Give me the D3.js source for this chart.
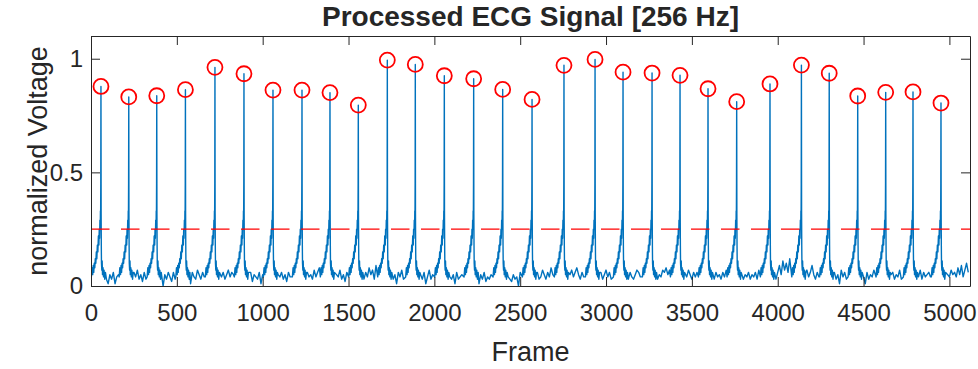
<!DOCTYPE html>
<html>
<head>
<meta charset="utf-8">
<script src="https://cdn.jsdelivr.net/npm/d3@7"></script>
<style>
  body { margin: 0; background: #fff; }
  text { font-family: "Liberation Sans", Arial, sans-serif; fill: #262626; }
</style>
</head>
<body>
<div id="wrapper"></div>
<script>
// detected R peaks (frame, normalized voltage)
const peakFrames = [58, 220, 383, 550, 722, 891, 1060, 1229, 1392, 1557,
  1726, 1889, 2058, 2229, 2398, 2569, 2755, 2936, 3099, 3268,
  3431, 3594, 3761, 3955, 4138, 4300, 4466, 4629, 4788, 4951]
const peakValues = [0.878, 0.832, 0.837, 0.864, 0.962, 0.934, 0.862, 0.862, 0.851, 0.796,
  0.994, 0.975, 0.925, 0.912, 0.865, 0.821, 0.971, 0.997, 0.941, 0.937,
  0.927, 0.868, 0.811, 0.889, 0.972, 0.936, 0.836, 0.852, 0.854, 0.805]

// shape of one beat around its R peak (offset in frames, voltage; null = the peak)
const beatOffsets = [-56, -52, -48, -45, -42, -39, -36, -33, -30, -27, -24, -21, -18, -15, -12, -10, -8, -6, -4, -3, -2, -1,
  0, 1, 2, 3, 5, 7, 9, 12, 15, 18, 22, 26]
const beatValues = [0.04, 0.08, 0.05, 0.09, 0.06, 0.10, 0.08, 0.12, 0.10, 0.15, 0.12, 0.18, 0.15, 0.22, 0.18, 0.25, 0.21, 0.29, 0.25, 0.33, 0.28, 0.45,
  null, 0.32, 0.18, 0.10, 0.07, 0.11, 0.05, 0.08, 0.04, 0.07, 0.03, 0.06]

// baseline between beats, one value every 10 frames (in hundredths)
const baselineStep = 10
const baselineHundredths = [
  8,6,9,5,7,4,8,6,9,3,1,5,3,6,1,4,  5,3,7,1,4,6,3,5,8,6,4,7,3,5,2,6,
  3,5,4,7,1,6,3,8,5,4,0,5,3,6,4,2,  6,3,5,7,4,8,6,4,3,5,1,6,4,3,7,5,
  3,6,4,8,5,1,7,4,6,3,5,2,4,6,3,5,  7,4,6,5,8,4,6,9,3,5,1,4,3,6,2,5,
  4,3,6,1,5,7,4,8,6,9,5,3,1,5,4,6,  3,5,2,6,4,3,7,5,8,4,6,3,5,0,6,4,
  5,3,7,4,6,8,5,9,4,6,3,1,4,6,3,5,  4,7,3,5,2,6,4,8,5,9,6,3,4,1,5,3,
  6,4,8,5,7,3,9,6,10,7,8,5,6,3,4,2, 3,5,1,6,4,7,3,5,8,4,6,7,5,3,4,2,
  5,3,6,1,4,7,3,5,6,8,4,6,9,5,3,4,  2,4,3,5,1,6,3,4,5,3,6,4,7,5,8,6,
  4,3,1,5,3,6,2,4,3,5,4,6,5,7,4,8,  3,5,1,4,3,2,5,3,4,0,6,3,5,4,6,7,
  4,3,5,1,6,3,4,7,5,3,6,4,8,5,6,9,  5,7,4,3,5,6,3,5,7,4,6,8,5,3,6,4,
  7,5,6,8,4,1,3,5,4,6,3,5,7,4,6,3,  5,4,7,6,8,3,4,1,5,3,6,4,3,5,7,6,
  4,6,8,5,7,3,5,1,4,6,3,5,4,7,6,8,  5,7,4,6,3,5,2,4,3,5,6,4,7,5,3,6,
  4,6,3,8,5,7,4,3,5,1,4,3,6,4,5,3,  6,4,7,5,3,6,4,8,5,3,1,4,3,5,4,6,
  3,5,4,6,3,7,5,8,6,4,9,5,7,6,4,3,  6,9,5,11,7,10,6,12,8,5,10,7,11,6,9,8,
  5,7,4,6,9,5,3,6,4,7,5,8,6,4,5,3,  4,6,3,5,1,7,4,6,3,5,4,6,3,5,4,6,
  3,5,4,1,6,3,5,4,7,3,5,6,4,7,5,6,  4,3,5,6,3,5,4,7,3,6,4,5,7,4,6,5,
  3,5,4,7,3,6,4,5,6,4,3,5,7,5,6,4,  4,6,3,5,4,7,5,6,4,8,5,9,4,7,10,6
]

const thresholdValue = 0.25
const xTicks = d3.range(0, 5001, 500)
const yTicks = [0, 0.5, 1]

// build the signal points from beats + baseline
const signal = []
peakFrames.forEach((p, i) => {
  beatOffsets.forEach((o, j) => {
    signal.push({ frame: p + o, value: beatValues[j] === null ? peakValues[i] : beatValues[j] })
  })
})
baselineHundredths.forEach((v, k) => {
  const f = k * baselineStep
  const inBeat = peakFrames.some(p => f > p - 60 && f < p + 30)
  if (!inBeat) signal.push({ frame: f, value: v / 100 })
})
signal.sort((a, b) => a.frame - b.frame)

const peaks = peakFrames.map((f, i) => ({ frame: f, value: peakValues[i] }))

// dimensions
const dimensions = {
  width: 978,
  height: 369,
  margin: { top: 36, right: 8, bottom: 83, left: 91 }
}
dimensions.boundedWidth = dimensions.width - dimensions.margin.left - dimensions.margin.right
dimensions.boundedHeight = dimensions.height - dimensions.margin.top - dimensions.margin.bottom

const wrapper = d3.select("#wrapper")
  .append("svg")
    .attr("width", dimensions.width)
    .attr("height", dimensions.height)

const bounds = wrapper.append("g")
  .attr("transform", `translate(${dimensions.margin.left},${dimensions.margin.top})`)

// scales
const xScale = d3.scaleLinear()
  .domain([0, 5120])
  .range([0, dimensions.boundedWidth])

const yScale = d3.scaleLinear()
  .domain([0, 1.1])
  .range([dimensions.boundedHeight, 0])

bounds.append("clipPath")
  .attr("id", "clip")
  .append("rect")
    .attr("width", dimensions.boundedWidth)
    .attr("height", dimensions.boundedHeight)

// data
const lineGenerator = d3.line()
  .x(d => xScale(d.frame))
  .y(d => yScale(d.value))

bounds.append("path")
  .datum(signal)
  .attr("clip-path", "url(#clip)")
  .attr("d", lineGenerator)
  .attr("fill", "none")
  .attr("stroke", "#0072BD")
  .attr("stroke-width", 1.4)
  .attr("stroke-linejoin", "round")

bounds.append("line")
  .attr("x1", 0)
  .attr("x2", dimensions.boundedWidth)
  .attr("y1", yScale(thresholdValue))
  .attr("y2", yScale(thresholdValue))
  .attr("stroke", "#FF0000")
  .attr("stroke-width", 1.2)
  .attr("stroke-dasharray", "18.5,11.5")

bounds.selectAll("circle")
  .data(peaks)
  .enter().append("circle")
    .attr("cx", d => xScale(d.frame))
    .attr("cy", d => yScale(d.value))
    .attr("r", 7.5)
    .attr("fill", "none")
    .attr("stroke", "#FF0000")
    .attr("stroke-width", 1.8)

// axes
const tickLen = 9
const styleAxis = g => {
  g.selectAll(".domain").attr("stroke", "#262626")
  g.selectAll(".tick line").attr("stroke", "#262626")
  g.selectAll(".tick text")
    .style("font-family", '"Liberation Sans", Arial, sans-serif')
    .style("font-size", "24px")
    .attr("fill", "#262626")
}

bounds.append("g")
  .attr("transform", `translate(0,${dimensions.boundedHeight})`)
  .call(d3.axisBottom(xScale).tickValues(xTicks).tickFormat(d3.format("d"))
    .tickSizeInner(-tickLen).tickSizeOuter(0).tickPadding(18))
  .call(styleAxis)

bounds.append("g")
  .call(d3.axisTop(xScale).tickValues(xTicks).tickFormat("")
    .tickSizeInner(-tickLen).tickSizeOuter(0))
  .call(styleAxis)

bounds.append("g")
  .call(d3.axisLeft(yScale).tickValues(yTicks).tickFormat(d3.format("~g"))
    .tickSizeInner(-tickLen).tickSizeOuter(0).tickPadding(8))
  .call(styleAxis)

bounds.append("g")
  .attr("transform", `translate(${dimensions.boundedWidth},0)`)
  .call(d3.axisRight(yScale).tickValues(yTicks).tickFormat("")
    .tickSizeInner(-tickLen).tickSizeOuter(0))
  .call(styleAxis)

// labels
bounds.append("text")
  .attr("x", dimensions.boundedWidth / 2)
  .attr("y", -10)
  .attr("text-anchor", "middle")
  .style("font-size", "28px")
  .style("font-weight", "bold")
  .text("Processed ECG Signal [256 Hz]")

bounds.append("text")
  .attr("x", dimensions.boundedWidth / 2)
  .attr("y", dimensions.boundedHeight + 75)
  .attr("text-anchor", "middle")
  .style("font-size", "27px")
  .text("Frame")

bounds.append("text")
  .attr("transform", `translate(-44,${dimensions.boundedHeight / 2}) rotate(-90)`)
  .attr("text-anchor", "middle")
  .style("font-size", "27px")
  .text("normalized Voltage")
</script>
</body>
</html>
